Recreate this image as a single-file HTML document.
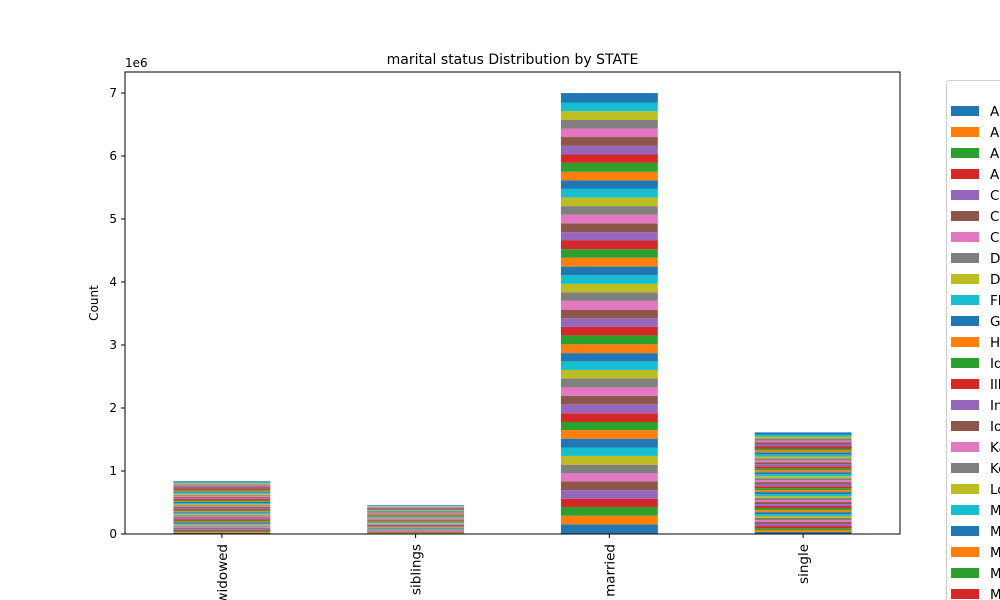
<!DOCTYPE html>
<html><head><meta charset="utf-8"><style>
body{margin:0;background:#fff;width:1000px;height:600px;overflow:hidden;font-family:"Liberation Sans","DejaVu Sans",sans-serif}
</style></head><body>
<svg id="chart" width="1000" height="600" xmlns="http://www.w3.org/2000/svg" style="font-family:'DejaVu Sans','Liberation Sans',sans-serif;display:block;overflow:hidden">
<g id="bars"></g>
<g id="axes"></g>
<g id="legend"></g>
</svg>
<script>
const categories = ["widowed","siblings","married","single"];
const states = ["Alabama","Alaska","Arizona","Arkansas","California","Colorado","Connecticut","Delaware","District of Columbia","Florida","Georgia","Hawaii","Idaho","Illinois","Indiana","Iowa","Kansas","Kentucky","Louisiana","Maine","Maryland","Massachusetts","Michigan","Minnesota","Mississippi","Missouri","Montana","Nebraska","Nevada","New Hampshire","New Jersey","New Mexico","New York","North Carolina","North Dakota","Ohio","Oklahoma","Oregon","Pennsylvania","Rhode Island","South Carolina","South Dakota","Tennessee","Texas","Utah","Vermont","Virginia","Washington","West Virginia","Wisconsin","Wyoming"];
const widowed = [18,15,17,16,19,14,17,15,16,18,17,15,16,19,17,14,16,18,17,15,16,17,18,15,16,17,14,16,18,15,17,16,18,17,15,16,17,16,18,15,17,16,17,18,15,16,17,16,18,15,16];
const siblings = [9,8,10,9,9,8,10,9,8,9,10,9,8,9,10,9,8,9,10,9,9,8,10,9,9,8,9,10,9,8,9,10,9,9,8,9,10,9,8,9,10,9,9,8,9,10,9,8,9,10,9];
const married = [150,142,138,130,135,140,128,137,139,133,141,136,129,138,145,132,134,140,137,136,131,139,142,135,138,136,140,133,137,139,134,141,136,138,132,140,137,135,139,136,134,138,141,133,137,140,136,135,139,138,150];
const single = [31,33,30,32,34,30,31,33,32,30,31,32,34,31,30,33,32,31,30,32,33,31,32,30,31,34,32,31,30,33,32,31,30,32,33,31,32,30,31,33,32,31,30,32,33,31,32,30,31,33,34];
const yTicks = [0,1,2,3,4,5,6,7];
const palette = ["#1f77b4","#ff7f0e","#2ca02c","#d62728","#9467bd","#8c564b","#e377c2","#7f7f7f","#bcbd22","#17becf"];
const series = [widowed,siblings,married,single];
const NS="http://www.w3.org/2000/svg";
const L=125,R=900,T=72,B=534;
function y(vMillions){return B-vMillions*63;}
function xc(i){return L+(i+0.5)*(R-L)/categories.length;}
const bw=(R-L)/categories.length*0.5;
function mk(tag,attrs,parent){const e=document.createElementNS(NS,tag);for(const k in attrs)e.setAttribute(k,attrs[k]);parent.appendChild(e);return e;}
const bars=document.getElementById('bars'),axes=document.getElementById('axes'),legend=document.getElementById('legend');
categories.forEach((c,ci)=>{
  let acc=0;
  states.forEach((s,si)=>{
    const v=series[ci][si]/1000;
    const r=mk('rect',{x:xc(ci)-bw/2,y:y(acc+v),width:bw,height:y(acc)-y(acc+v),fill:palette[si%10]},bars);
    
    
    acc+=v;
  });
  const t=mk('line',{x1:xc(ci),x2:xc(ci),y1:B,y2:B+4,stroke:'#000'},axes);
  
  
  const lb=mk('text',{x:0,y:0,transform:`translate(${xc(ci)+5},${B+10}) rotate(-90)`,'text-anchor':'end','font-size':13.5},axes);
  lb.textContent=c;
  
  
});
const frame=mk('rect',{x:L,y:T,width:R-L,height:B-T,fill:'none',stroke:'#000','stroke-width':1},axes);


yTicks.forEach(v=>{
  const t=mk('line',{x1:L-4,x2:L,y1:y(v),y2:y(v),stroke:'#000'},axes);
  
  
  const lb=mk('text',{x:L-8,y:y(v)+4,'text-anchor':'end','font-size':12},axes);
  lb.textContent=v;
  
  
});
const off=mk('text',{x:L,y:67,'font-size':12},axes);off.textContent='1e6';


const yt=mk('text',{x:0,y:0,transform:`translate(98,${(T+B)/2}) rotate(-90)`,'text-anchor':'middle','font-size':12},axes);yt.textContent='Count';


const title=mk('text',{x:(L+R)/2,y:64,'text-anchor':'middle','font-size':14},axes);title.textContent='marital status Distribution by STATE';


const lbox=mk('rect',{x:946.5,y:80.5,width:60,height:525,rx:3,fill:'#fff',stroke:'#ccc'},legend);


states.forEach((s,si)=>{
  const cy=111+si*21;
  if(cy>600)return;
  const sw=mk('rect',{x:951,y:cy-5,width:28,height:10,fill:palette[si%10]},legend);
  
  
  const tx=mk('text',{x:990,y:cy+5,'font-size':13.5},legend);tx.textContent=s;
  
  
});
</script>
</body></html>
